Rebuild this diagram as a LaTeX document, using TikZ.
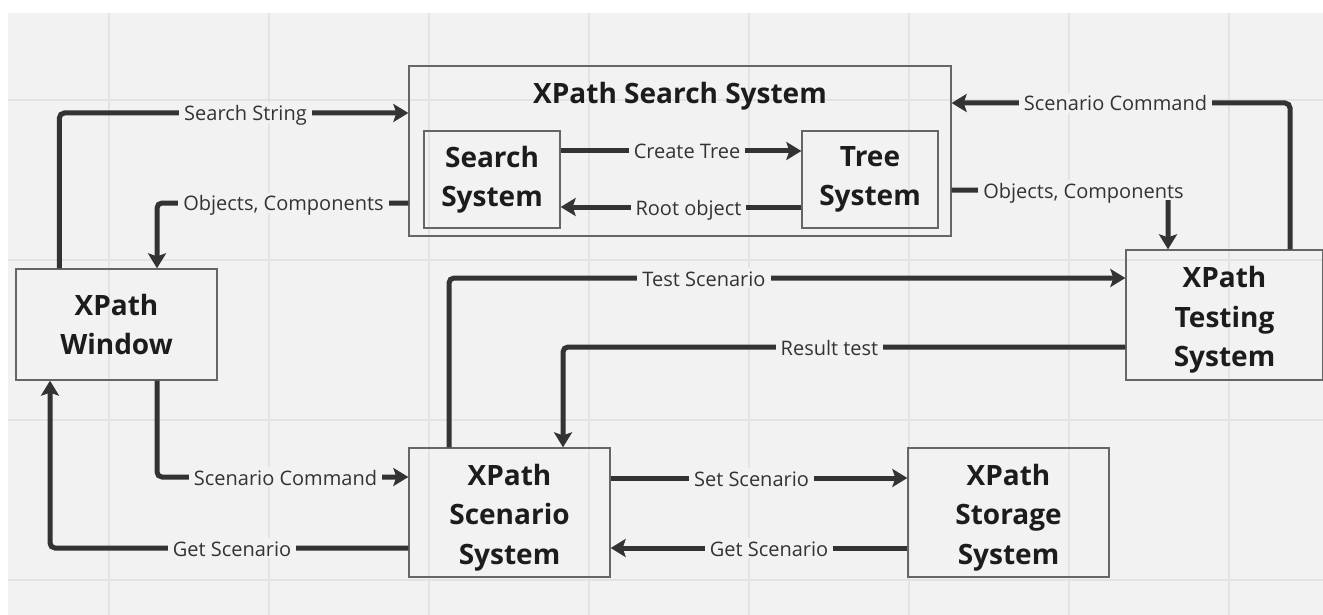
\documentclass[tikz,border=0pt]{standalone}
\usepackage{fontspec}
\setmainfont{Open Sans}
\usetikzlibrary{arrows.meta}
\definecolor{canvas}{HTML}{F2F2F2}
\definecolor{gridc}{HTML}{E3E3E3}
\definecolor{ink}{HTML}{333333}
\definecolor{edge}{HTML}{666666}
\definecolor{titleink}{HTML}{1C1C1C}
% extra head room that lowers the three-line titles a little
\newcommand{\lowerstrut}{\rule{0pt}{31pt}}
\begin{document}
\begin{tikzpicture}[x=1pt,y=-1pt,
  titlefont/.style={font=\bfseries\fontsize{28}{39.5}\selectfont, text=titleink},
  block/.style={draw=edge, line width=1.3pt, align=center, titlefont, inner sep=0pt},
  conn/.style={draw=ink, line width=5pt, rounded corners=5pt,
    -{Stealth[length=15pt,width=18pt,inset=3pt]}},
  lab/.style={fill=canvas, text=ink, font=\fontsize{20}{24}\selectfont,
    inner xsep=5pt, inner ysep=2pt, text height=16pt, text depth=0pt}]

\useasboundingbox (0,0) rectangle (1323,615);

% canvas and grid
\fill[canvas] (8,13) rectangle (1323,615);
\foreach \gx in {109,269,...,1229}
  \draw[gridc, line width=1.5pt] (\gx,13) -- (\gx,615);
\foreach \gy in {100,260,420,580}
  \draw[gridc, line width=1.5pt] (8,\gy) -- (1323,\gy);

% components
\node[block, minimum width=542pt, minimum height=170pt] (sss) at (680,151) {};
\node[titlefont, anchor=base] (ssstitle) at (680,104) {XPath Search System};
\node[block, minimum width=136pt, minimum height=97pt] (search) at (492,179.5) {Search\\System};
\node[block, minimum width=136pt, minimum height=97pt] (tree) at (870,179.5) {Tree\\System};
\node[block, minimum width=201pt, minimum height=111pt] (window) at (116.5,324.5) {XPath\\Window};
\node[block, minimum width=197pt, minimum height=130pt] (testing) at (1224.5,315) {\lowerstrut XPath\\Testing\\System};
\node[block, minimum width=201pt, minimum height=129pt] (scenario) at (509.5,512.5) {\lowerstrut XPath\\Scenario\\System};
\node[block, minimum width=201pt, minimum height=129pt] (storage) at (1008.5,512.5) {\lowerstrut XPath\\Storage\\System};

% connectors
\draw[conn] ([xshift=44pt]window.north west) |- ([yshift=38pt]sss.west);
\draw[conn] ([yshift=-52pt]sss.west) -| ([xshift=40.5pt]window.north);
\draw[conn] ([yshift=28.5pt]search.east) -- ([yshift=28.5pt]tree.west);
\draw[conn] ([yshift=-27.5pt]tree.west) -- ([yshift=-27.5pt]search.east);
\draw[conn] ([xshift=65.5pt]testing.north) |- ([yshift=48pt]sss.east);
\draw[conn] ([yshift=-39pt]sss.east) -| ([xshift=-56.5pt]testing.north);
\draw[conn] ([xshift=-60.5pt]scenario.north) |- ([yshift=37pt]testing.west);
\draw[conn] ([yshift=-32pt]testing.west) -| ([xshift=53.5pt]scenario.north);
\draw[conn] ([xshift=40.5pt]window.south) |- ([yshift=35.5pt]scenario.west);
\draw[conn] ([yshift=-35.5pt]scenario.west) -| ([xshift=-66.5pt]window.south);
\draw[conn] ([yshift=34.5pt]scenario.east) -- ([yshift=34.5pt]storage.west);
\draw[conn] ([yshift=-35.5pt]storage.west) -- ([yshift=-35.5pt]scenario.east);

% connector labels
\node[lab] (l1) at (245.5,113) {Search String};
\node[lab] (l2) at (283.5,203) {Objects, Components};
\node[lab] (l3) at (687,151) {Create Tree};
\node[lab] (l4) at (688.5,207) {Root object};
\node[lab] (l5) at (1115.5,103) {Scenario Command};
\node[lab] (l6) at (1083.5,190) {Objects, Components};
\node[lab] (l7) at (704,278) {Test Scenario};
\node[lab] (l8) at (829.5,347) {Result test};
\node[lab] (l9) at (285.5,477) {Scenario Command};
\node[lab] (l10) at (232,548) {Get Scenario};
\node[lab] (l11) at (751.5,478) {Set Scenario};
\node[lab] (l12) at (769,548) {Get Scenario};
\end{tikzpicture}
\end{document}
